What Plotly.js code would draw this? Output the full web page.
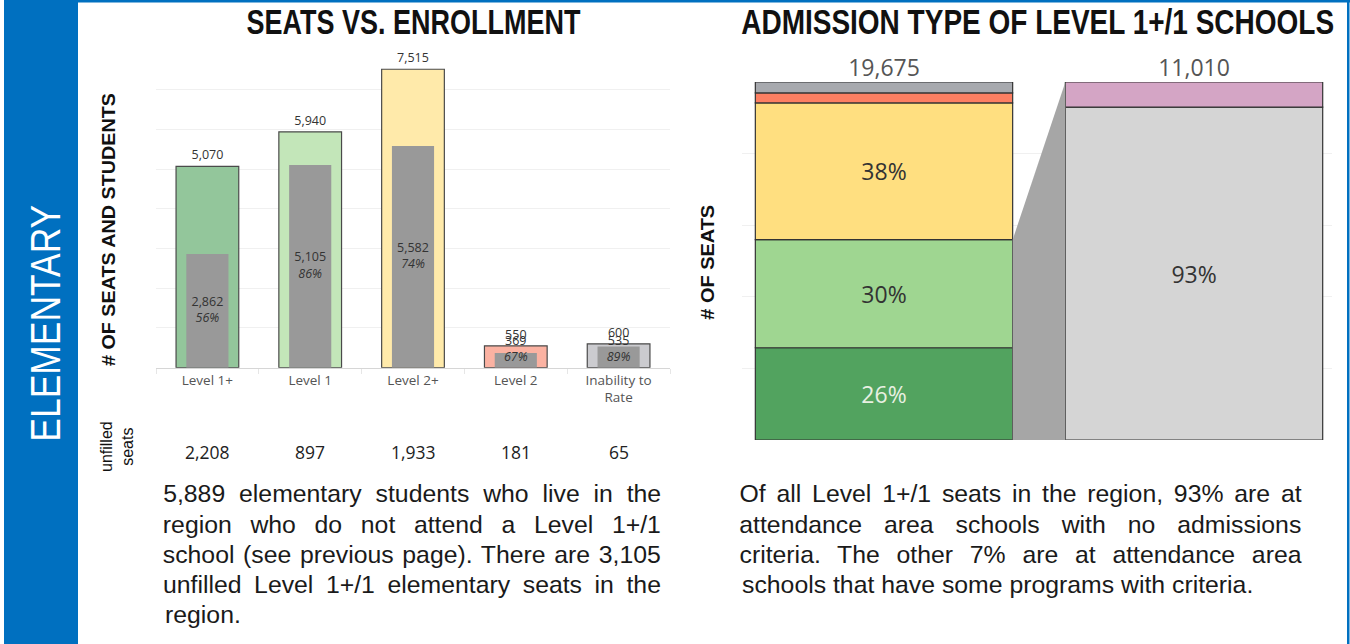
<!DOCTYPE html>
<html>
<head>
<meta charset="utf-8">
<script src="https://cdn.plot.ly/plotly-3.0.1.min.js"></script>
<style>
  html, body { margin: 0; padding: 0; background: #ffffff; }
  #chart { width: 1350px; height: 644px; }
</style>
</head>
<body>
<div id="chart"></div>
<script>
// ---------------- DATA ----------------
const categories = ['Level 1+', 'Level 1', 'Level 2+', 'Level 2', 'Inability to Rate'];
const tickLabels = ['Level 1+', 'Level 1', 'Level 2+', 'Level 2', 'Inability to<br>Rate'];
const seats = [5070, 5940, 7515, 550, 600];
const enrolled = [2862, 5105, 5582, 369, 535];
const unfilled = [2208, 897, 1933, 181, 65];
const seatColors = ['#93c69b', '#c3e6b9', '#ffeaaa', '#fbb2a2', '#cbcbcf'];
const stackColors = ['#52a35f', '#9fd691', '#ffdf80', '#fc7f62', '#a7a9ae'];
const stackTextColors = ['#e8f0e2', '#333333', '#333333', '#333333', '#333333'];
const admissionTypes = ['Attendance area, no admissions criteria', 'Some programs with criteria'];
const admissionPct = [93, 7];
const admissionColors = ['#d5d5d5', '#d4a5c5'];
const leftParagraph = [
  '5,889 elementary students who live in the',
  'region who do not attend a Level 1+/1',
  'school (see previous page). There are 3,105',
  'unfilled Level 1+/1 elementary seats in the',
  'region.'
];
const rightParagraph = [
  'Of all Level 1+/1 seats in the region, 93% are at',
  'attendance area schools with no admissions',
  'criteria. The other 7% are at attendance area',
  'schools that have some programs with criteria.'
];

// ---------------- HELPERS ----------------
const W = 1350, H = 644;
const px = v => v / W;
const py = v => 1 - v / H;
const fmt = n => n.toLocaleString('en-US');
const SANS = '"Liberation Sans", Arial, sans-serif';
const LABEL = '"Open Sans", "Noto Sans", sans-serif';

const pctOfSeats = enrolled.map((e, i) => Math.round(e / seats[i] * 100));
const totalSeats = seats.reduce((a, b) => a + b, 0);
const stackPct = seats.map(s => s / totalSeats * 100);
const stackBase = stackPct.map((_, i) => stackPct.slice(0, i).reduce((a, b) => a + b, 0));
const level1Seats = seats[0] + seats[1];
const level1Pct = stackPct[0] + stackPct[1];
const admBase = admissionPct.map((_, i) => admissionPct.slice(0, i).reduce((a, b) => a + b, 0));
const BW = 0.83;

// ---------------- TRACES ----------------
const traces = [];
traces.push({
  type: 'bar', x: categories, y: seats, width: 0.61,
  marker: { color: seatColors, line: { color: '#4a4a4a', width: 1.2 } },
  text: seats.map(fmt), textposition: 'outside', cliponaxis: false,
  textfont: { family: LABEL, size: 12.5, color: '#333333' },
  hoverinfo: 'skip', xaxis: 'x', yaxis: 'y'
});
traces.push({
  type: 'bar', x: categories, y: enrolled, width: 0.41,
  marker: { color: '#999999', line: { width: 0 } },
  hoverinfo: 'skip', xaxis: 'x', yaxis: 'y'
});
traces.push({
  type: 'scatter', mode: 'text', x: categories,
  y: enrolled.map(v => Math.max(v / 2, 450)),
  text: enrolled.map((v, i) => fmt(v) + '<br><i>' + pctOfSeats[i] + '%</i>'),
  textposition: 'middle center', cliponaxis: false,
  textfont: { family: LABEL, size: 12.5, color: '#333333' },
  hoverinfo: 'skip', xaxis: 'x', yaxis: 'y'
});
traces.push({
  type: 'scatter', mode: 'lines', fill: 'toself', fillcolor: '#a6a6a6',
  x: [BW / 2, 1 - BW / 2, 1 - BW / 2, BW / 2, BW / 2],
  y: [level1Pct, 100, 0, 0, level1Pct],
  line: { width: 0, color: '#a6a6a6' }, hoverinfo: 'skip',
  xaxis: 'x2', yaxis: 'y2'
});
traces.push({
  type: 'bar', x: seats.map(() => 0), y: stackPct, base: stackBase, width: BW,
  marker: { color: stackColors, line: { color: '#333333', width: 1.2 } },
  text: stackPct.map(p => p > 10 ? Math.round(p) + '%' : ''),
  textposition: 'inside', insidetextanchor: 'middle', constraintext: 'none',
  textfont: { family: LABEL, size: 23, color: stackTextColors },
  hoverinfo: 'skip', xaxis: 'x2', yaxis: 'y2'
});
traces.push({
  type: 'bar', x: admissionPct.map(() => 1), y: admissionPct, base: admBase, width: BW,
  marker: { color: admissionColors, line: { color: '#333333', width: 1.2 } },
  text: admissionPct.map(p => p > 10 ? p + '%' : ''),
  textposition: 'inside', insidetextanchor: 'middle', constraintext: 'none',
  textfont: { family: LABEL, size: 23, color: '#333333' },
  hoverinfo: 'skip', xaxis: 'x2', yaxis: 'y2'
});
traces.push({
  type: 'scatter', mode: 'text', x: [0, 1], y: [100, 100],
  text: [fmt(totalSeats), fmt(level1Seats)], textposition: 'top center',
  cliponaxis: false, textfont: { family: LABEL, size: 23, color: '#555555' },
  hoverinfo: 'skip', xaxis: 'x2', yaxis: 'y2'
});

// ---------------- ANNOTATIONS ----------------
const annotations = [];
const fits = [];      // squeeze text horizontally to a given length (condensed look)
const justify = [];   // justified paragraph lines
function ann(o, fitLen) {
  if (fitLen) fits.push({ idx: annotations.length, width: fitLen });
  annotations.push(Object.assign({ xref: 'paper', yref: 'paper', showarrow: false,
    xanchor: 'center', yanchor: 'middle' }, o));
}
ann({ text: '<b>SEATS VS. ENROLLMENT</b>', x: px(413), y: py(21),
  font: { family: SANS, size: 35, color: '#111111' } }, 334);
ann({ text: '<b>ADMISSION TYPE OF LEVEL 1+/1 SCHOOLS</b>', x: px(1037), y: py(21),
  font: { family: SANS, size: 35, color: '#111111' } }, 593);
ann({ text: 'ELEMENTARY', x: px(45), y: py(323), textangle: -90,
  font: { family: SANS, size: 43, color: '#ffffff' } }, 237);
ann({ text: '<b># OF SEATS AND STUDENTS</b>', x: px(108), y: py(230), textangle: -90,
  font: { family: SANS, size: 19, color: '#111111' } }, 273);
ann({ text: '<b># OF SEATS</b>', x: px(707), y: py(263), textangle: -90,
  font: { family: SANS, size: 19, color: '#111111' } }, 115);
ann({ text: 'unfilled<br>seats', x: px(117), y: py(447), textangle: -90, align: 'center',
  font: { family: SANS, size: 16, color: '#111111' } });
unfilled.forEach((v, i) => ann({
  text: fmt(v), x: categories[i], xref: 'x', y: py(452),
  font: { family: LABEL, size: 17.5, color: '#222222' }
}));
function paragraph(lines, left, right, top) {
  lines.forEach((t, i) => {
    const last = i === lines.length - 1;
    if (!last) justify.push({ idx: annotations.length, width: right - left });
    ann({
      text: t, x: last ? px(left) : px((left + right) / 2), y: py(top + i * 30),
      xanchor: last ? 'left' : 'center', align: last ? 'left' : 'center',
      font: { family: SANS, size: 24.8, color: '#1a1a1a' }
    });
  });
}
paragraph(leftParagraph, 163, 661, 494);
paragraph(rightParagraph, 740, 1302, 494);

// ---------------- SHAPES ----------------
const shapes = [
  { type: 'rect', xref: 'paper', yref: 'paper', x0: px(4), x1: px(78), y0: 0, y1: 1,
    fillcolor: '#0070c0', line: { width: 0 }, layer: 'below' },
  { type: 'rect', xref: 'paper', yref: 'paper', x0: px(78), x1: 1, y0: py(2.5), y1: 1,
    fillcolor: '#0070c0', line: { width: 0 }, layer: 'below' },
  { type: 'rect', xref: 'paper', yref: 'paper', x0: px(1347), x1: px(1349.5), y0: 0, y1: 1,
    fillcolor: '#0070c0', line: { width: 0 }, layer: 'below' }
];

// ---------------- LAYOUT ----------------
const layout = {
  width: W, height: H, margin: { l: 0, r: 0, t: 0, b: 0 },
  paper_bgcolor: '#ffffff', plot_bgcolor: 'rgba(0,0,0,0)',
  barmode: 'overlay', showlegend: false,
  xaxis: {
    domain: [px(156), px(670)], type: 'category', categoryorder: 'array', categoryarray: categories,
    tickvals: categories, ticktext: tickLabels,
    tickfont: { family: LABEL, size: 13.5, color: '#555555' },
    showline: true, linecolor: '#d6d6d6', linewidth: 1,
    ticks: 'outside', tickson: 'boundaries', ticklen: 5, tickcolor: '#e6e6e6',
    showgrid: false, zeroline: false, fixedrange: true
  },
  yaxis: {
    domain: [py(367.7), py(50)], range: [0, 8000], dtick: 1000,
    showticklabels: false, gridcolor: '#f0f0f0', gridwidth: 1, zeroline: false, fixedrange: true
  },
  xaxis2: {
    domain: [px(742), px(1332)], range: [-0.458, 1.445], anchor: 'y2',
    showticklabels: false, showgrid: false, zeroline: false, showline: false, fixedrange: true
  },
  yaxis2: {
    domain: [py(440), py(82)], range: [0, 100], dtick: 20, anchor: 'x2',
    showticklabels: false, gridcolor: '#f0f0f0', gridwidth: 1, zeroline: false, fixedrange: true
  },
  annotations: annotations, shapes: shapes
};

function textOf(gd, idx) {
  const g = gd.querySelector('g.annotation[data-index="' + idx + '"]');
  return g ? g.querySelector('text') : null;
}
Plotly.newPlot('chart', traces, layout, { displayModeBar: false, staticPlot: true }).then(gd => {
  // condensed headings: horizontal squeeze of the whole annotation box around its centre
  fits.forEach(f => {
    const t = textOf(gd, f.idx);
    if (!t) return;
    const box = t.parentNode;
    const tb = t.getBBox();
    const s = f.width / tb.width;
    const cx = tb.x + tb.width / 2;
    const prev = box.getAttribute('transform') || '';
    box.setAttribute('transform', prev + ' translate(' + cx + ',0) scale(' + s + ',1) translate(' + (-cx) + ',0)');
  });
  // justified paragraph lines: widen word spacing to fill the column
  justify.forEach(j => {
    const t = textOf(gd, j.idx);
    if (!t) return;
    const natural = t.getComputedTextLength();
    const spaces = (t.textContent.match(/ /g) || []).length;
    if (spaces > 0) t.style.wordSpacing = ((j.width - natural) / spaces) + 'px';
  });
});
</script>
</body>
</html>
